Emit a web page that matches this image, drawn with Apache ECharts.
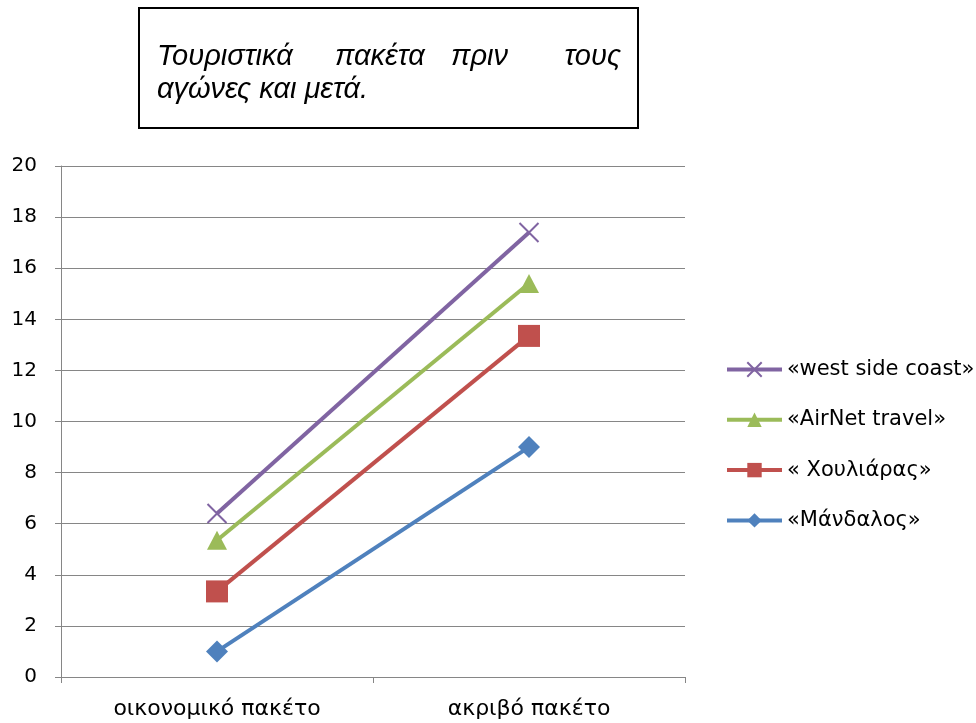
<!DOCTYPE html>
<html>
<head>
<meta charset="utf-8">
<script src="https://cdn.jsdelivr.net/npm/echarts@6/dist/echarts.min.js"></script>
<style>
  html, body { margin: 0; padding: 0; background: #fff; }
  #chart { width: 976px; height: 723px; }
</style>
</head>
<body>
<div id="chart"></div>
<script>
// Package types on the horizontal axis
const categories = ['οικονομικό πακέτο', 'ακριβό πακέτο'];

// Agencies and their values for each package type
const mandalos = [1, 9];
const xouliaras = [3.35, 13.35];
const airnet = [5.35, 15.4];
const westSide = [6.4, 17.4];

const yTicks = { min: 0, max: 20, interval: 2 };

const titleLine1 = ['Τουριστικά', 'πακέτα', 'πριν', 'τους'];
const titleLine2 = 'αγώνες και μετά.';

const FONT = '"DejaVu Sans", "Noto Sans", sans-serif';
const TITLE_FONT = '"Liberation Sans", Arial, sans-serif';

const chart = echarts.init(document.getElementById('chart'), null, { renderer: 'canvas' });

function lineSeries(name, data, color, symbol, size, extraItem) {
  return {
    name: name,
    type: 'line',
    data: data,
    symbol: symbol,
    symbolSize: size,
    showAllSymbol: true,
    lineStyle: { color: color, width: 4 },
    itemStyle: Object.assign({ color: color }, extraItem || {}),
    emphasis: { disabled: true },
    z: 3
  };
}

// Justified first title line: word positions spread across the box width
const titleWordX = [157, 335, 451, 621];
const titleGraphics = [
  {
    type: 'rect',
    shape: { x: 139, y: 8, width: 499, height: 120 },
    style: { fill: '#fff', stroke: '#000', lineWidth: 2 }
  }
];
titleLine1.forEach((w, i) => {
  titleGraphics.push({
    type: 'text',
    x: titleWordX[i],
    y: 42,
    style: {
      text: w,
      font: 'italic 29px ' + TITLE_FONT,
      fill: '#000',
      textAlign: i === titleLine1.length - 1 ? 'right' : 'left',
      textVerticalAlign: 'alphabetic'
    }
  });
});
titleGraphics.push({
  type: 'text',
  x: 157,
  y: 75,
  style: {
    text: titleLine2,
    font: 'italic 29px ' + TITLE_FONT,
    fill: '#000',
    textAlign: 'left',
    textVerticalAlign: 'alphabetic'
  }
});

const option = {
  animation: false,
  backgroundColor: '#fff',
  grid: { left: 61, right: 291, top: 166, bottom: 46, containLabel: false },
  xAxis: {
    type: 'category',
    data: categories,
    boundaryGap: true,
    axisLine: { lineStyle: { color: '#868686', width: 1 } },
    axisTick: { show: true, length: 6, inside: false, lineStyle: { color: '#868686' } },
    axisLabel: { color: '#000', fontFamily: FONT, fontSize: 22, margin: 21 },
    splitLine: { show: false }
  },
  yAxis: {
    type: 'value',
    min: yTicks.min,
    max: yTicks.max,
    interval: yTicks.interval,
    axisLine: { show: true, lineStyle: { color: '#868686', width: 1 } },
    axisTick: { show: true, length: 6, lineStyle: { color: '#868686' } },
    axisLabel: { color: '#000', fontFamily: FONT, fontSize: 20, margin: 24 },
    splitLine: { show: true, lineStyle: { color: '#868686', width: 1 } }
  },
  legend: {
    orient: 'vertical',
    left: 725,
    top: 359,
    padding: 0,
    itemGap: 29.3,
    itemWidth: 55,
    itemHeight: 18,
    lineStyle: { width: 4 },
    data: ['«west side coast»', '«AirNet travel»', '« Χουλιάρας»', '«Μάνδαλος»'],
    textStyle: { color: '#000', fontFamily: FONT, fontSize: 21 }
  },
  graphic: titleGraphics,
  series: [
    lineSeries('«Μάνδαλος»', mandalos, '#4F81BD', 'diamond', [22, 22]),
    lineSeries('« Χουλιάρας»', xouliaras, '#C0504D', 'rect', [22, 22]),
    lineSeries('«AirNet travel»', airnet, '#9BBB59', 'triangle', [20, 19]),
    lineSeries('«west side coast»', westSide, '#8064A2',
      'path://M0,0L10,10M10,0L0,10', [19, 19],
      { color: 'none', borderColor: '#8064A2', borderWidth: 2 })
  ]
};

chart.setOption(option);
</script>
</body>
</html>
